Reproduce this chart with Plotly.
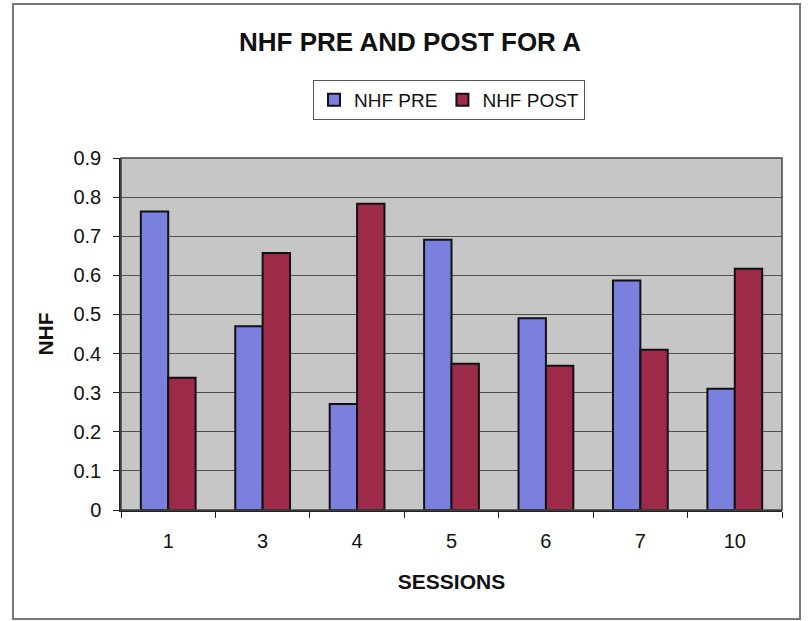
import plotly.graph_objects as go

# Session labels and NHF values before/after
sessions = ["1", "3", "4", "5", "6", "7", "10"]
nhf_pre = [0.763, 0.47, 0.271, 0.691, 0.49, 0.587, 0.31]
nhf_post = [0.338, 0.657, 0.783, 0.374, 0.369, 0.41, 0.617]
y_ticks = [0, 0.1, 0.2, 0.3, 0.4, 0.5, 0.6, 0.7, 0.8, 0.9]

PRE_COLOR = "#7b80df"
POST_COLOR = "#9e2a4a"
FONT = "Liberation Sans, Arial, sans-serif"

fig = go.Figure()
fig.add_trace(go.Bar(
    x=sessions, y=nhf_pre, name="NHF PRE",
    marker=dict(color=PRE_COLOR, line=dict(color="#111111", width=2)),
))
fig.add_trace(go.Bar(
    x=sessions, y=nhf_post, name="NHF POST",
    marker=dict(color=POST_COLOR, line=dict(color="#111111", width=2)),
))

# plot area in pixels: x 121..782, y 158..510
L, R, T, B = 121, 27, 158, 111
W, H = 809, 621
pw, ph = W - L - R, H - T - B

def px_x(x):
    return (x - L) / pw

def px_y(y):
    return (H - B - y) / ph

fig.update_layout(
    width=W, height=H,
    margin=dict(l=L, r=R, t=T, b=B),
    paper_bgcolor="white",
    plot_bgcolor="#c6c6c6",
    barmode="group",
    bargap=0.42,
    bargroupgap=0,
    font=dict(family=FONT, color="#111111"),
    title=dict(
        text="<b>NHF PRE AND POST FOR A</b>",
        x=410 / W, xanchor="center",
        y=1 - 42 / H, yanchor="middle",
        font=dict(size=26, family=FONT, color="#111111"),
    ),
    legend=dict(
        orientation="h",
        x=px_x(449), xanchor="center",
        y=px_y(100), yanchor="middle",
        bordercolor="#555555", borderwidth=1,
        bgcolor="white",
        font=dict(size=19, family=FONT, color="#111111"),
        itemwidth=30,
        traceorder="normal",
    ),
    xaxis=dict(
        type="category",
        showline=True, linecolor="#222222", linewidth=1.5,
        ticks="outside", ticklen=6, tickcolor="#222222",
        tickson="boundaries",
        ticklabelstandoff=12,
        tickfont=dict(size=20, family=FONT, color="#111111"),
        title=dict(text="<b>SESSIONS</b>", font=dict(size=21, family=FONT), standoff=24),
        showgrid=False,
    ),
    yaxis=dict(
        range=[0, 0.9],
        tickvals=y_ticks,
        ticktext=[("%g" % v) for v in y_ticks],
        showline=True, linecolor="#222222", linewidth=1.5,
        ticks="outside", ticklen=6, tickcolor="#222222",
        ticklabelstandoff=8,
        tickfont=dict(size=20, family=FONT, color="#111111"),
        showgrid=True, gridcolor="#505050", gridwidth=1,
        zeroline=False,
        title=dict(text="<b>NHF</b>", font=dict(size=21, family=FONT), standoff=14),
    ),
    shapes=[
        # frame around the plot area
        dict(type="rect", xref="paper", yref="paper", x0=0, x1=1, y0=0, y1=1,
             line=dict(color="#444444", width=1.5), layer="above"),
        # outer chart border
        dict(type="rect", xref="paper", yref="paper",
             x0=px_x(13), x1=px_x(800), y0=px_y(619), y1=px_y(4),
             line=dict(color="#777777", width=2)),
    ],
)

fig.write_html("out.html")
